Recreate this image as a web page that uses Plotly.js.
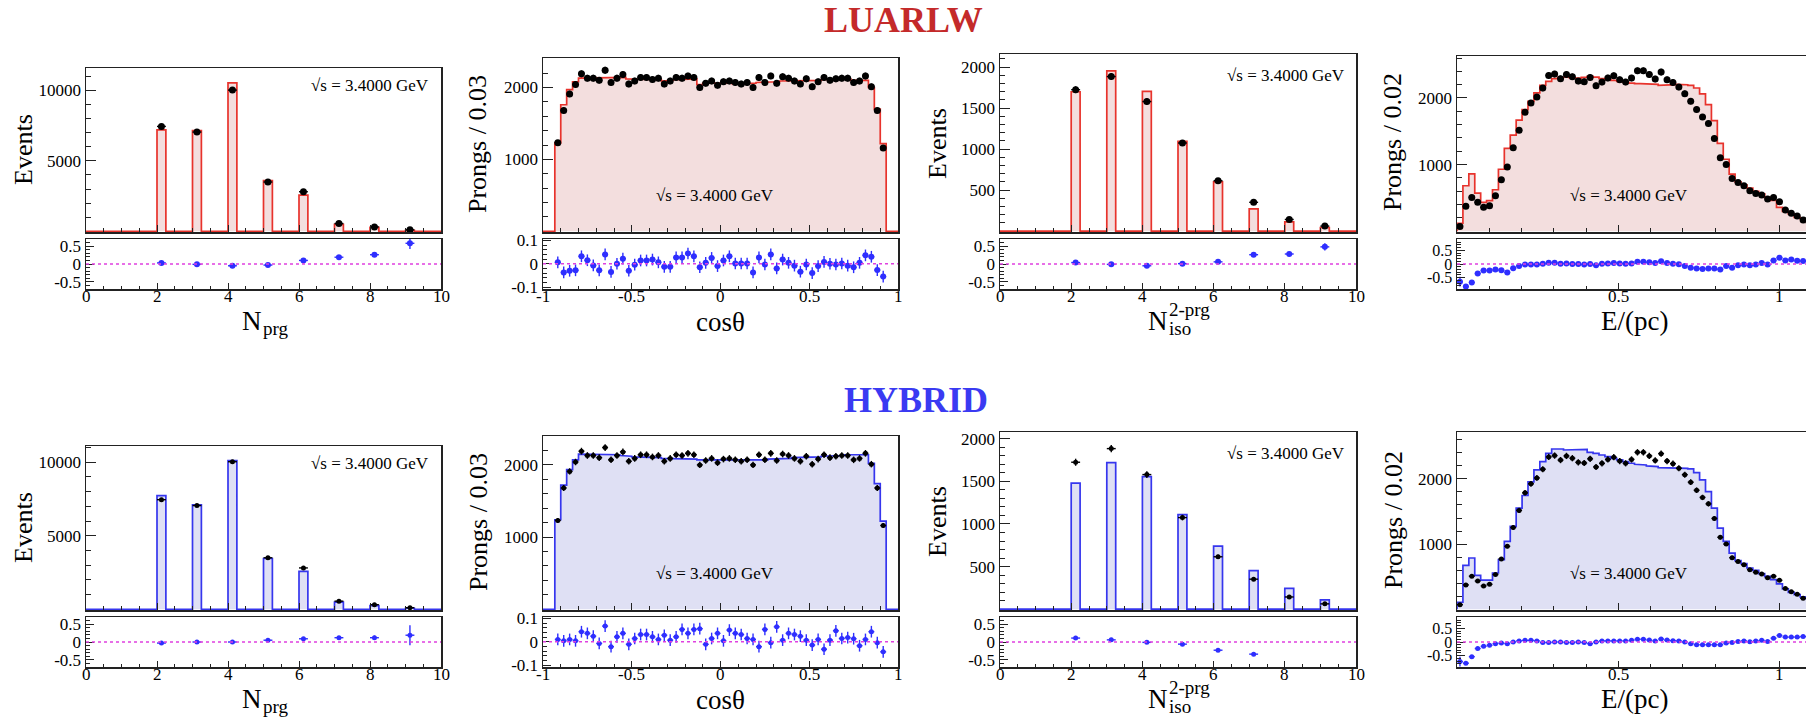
<!DOCTYPE html>
<html><head><meta charset="utf-8">
<script src="https://cdn.plot.ly/plotly-3.0.1.min.js"></script>
<style>html,body{margin:0;padding:0;overflow:hidden;background:#fff;}#chart{width:1820px;height:717px;}</style>
</head><body><div id="chart"></div>
<script>
// ---------------- DATA ----------------
const nBins = [2, 3, 4, 5, 6, 7, 8, 9];
const nprgData   = [7450, 7050, 10030, 3500, 2810, 550, 310, 105];
const nprgLuarlw = [7200, 7150, 10540, 3600, 2570, 490, 280, 60];
const nprgHybrid = [7720, 7100, 10110, 3450, 2570, 490, 245, 70];
const nprgRatioLuarlw    = [0.03, -0.01, -0.05, -0.03, 0.10, 0.19, 0.26, 0.58];
const nprgRatioLuarlwErr = [0.02, 0.02, 0.015, 0.02, 0.025, 0.04, 0.05, 0.16];
const nprgRatioHybrid    = [-0.03, 0.0, 0.0, 0.05, 0.09, 0.12, 0.12, 0.19];
const nprgRatioHybridErr = [0.015, 0.015, 0.012, 0.02, 0.02, 0.04, 0.06, 0.28];

const nisoData   = [1725, 1885, 1580, 1075, 615, 352, 143, 62];
const nisoLuarlw = [1700, 1955, 1705, 1095, 600, 272, 114, 45];
const nisoHybrid = [1480, 1720, 1555, 1110, 740, 452, 245, 109];
const nisoRatioLuarlw    = [0.04, -0.01, -0.05, 0.01, 0.06, 0.26, 0.28, 0.48];
const nisoRatioLuarlwErr = [0.02, 0.02, 0.02, 0.02, 0.03, 0.04, 0.06, 0.1];
const nisoRatioHybrid    = [0.11, 0.06, -0.01, -0.06, -0.23, -0.34];
const nisoRatioHybridErr = [0.015, 0.015, 0.015, 0.015, 0.02, 0.025];

// cos(theta): 60 bins on [-1,1], filled bins 2..57
const cosNBins = 60, cosLo = -1, cosHi = 1, cosFirst = 2;
const cosData = [1230,1680,1910,2040,2190,2130,2130,2100,2240,2070,
  2130,2180,2050,2090,2140,2140,2110,2130,2050,2090,
  2140,2130,2160,2140,2000,2060,2090,2030,2080,2090,
  2070,2050,2070,2000,2140,2070,2160,2060,2150,2130,
  2090,2050,2120,2010,2080,2140,2100,2120,2130,2130,
  2070,2090,2160,2010,1680,1160];
const cosLuarlw = [1230,1760,1970,2080,2130,2130,2130,2130,2140,2140,
  2140,2140,2120,2110,2120,2120,2110,2110,2090,2100,
  2110,2110,2120,2120,2040,2060,2070,2060,2060,2060,
  2050,2050,2060,2060,2070,2070,2070,2080,2090,2090,
  2100,2100,2100,2100,2100,2110,2110,2110,2120,2120,
  2100,2100,2100,2000,1700,1220];
const cosHybrid = [1240,1720,1935,2070,2150,2150,2150,2150,2150,2140,
  2140,2130,2120,2110,2110,2110,2100,2100,2090,2090,
  2090,2090,2080,2080,2070,2070,2060,2060,2060,2060,
  2060,2060,2070,2070,2070,2070,2080,2080,2090,2090,
  2100,2100,2100,2110,2110,2120,2120,2130,2130,2140,
  2140,2140,2140,2020,1740,1220];
const cosRatioLuarlw = [0.006,-0.037,-0.03,-0.028,0.032,0.015,-0.007,-0.028,0.04,-0.035,
  0,0.022,-0.03,-0.004,0.014,0.014,0.018,0.006,-0.013,-0.013,
  0.027,0.027,0.044,0.032,-0.015,0.004,0.025,-0.01,0.014,0.032,
  0.001,0.001,0.001,-0.037,0.027,-0.003,0.04,-0.02,0.018,0.004,
  -0.008,-0.034,-0.003,-0.04,-0.01,0.008,0,-0.003,0.001,-0.008,
  -0.015,0.004,0.036,0.03,-0.027,-0.055];
const cosRatioHybrid = [0.01,0.004,0.01,0.004,0.043,0.036,0.024,-0.007,0.067,-0.021,
  0.021,0.036,-0.011,0.014,0.031,0.031,0.021,0.01,0.028,0.007,
  0.021,0.053,0.036,0.053,0.056,-0.011,0.014,0.036,0.004,0.05,
  0.036,0.031,0.014,0.01,-0.021,0.053,-0.004,0.064,0.007,0.036,
  0.031,0.024,0.007,-0.014,0.01,-0.032,0.007,0.047,0.014,0.018,
  0.013,-0.017,0.01,0.043,-0.004,-0.043];
const cosRatioErr = 0.025;

// E/(pc): 60 bins on [0,1.1]
const eNBins = 60, eLo = 0, eHi = 1.1, eFirst = 0;
const eData = [70,373,507,433,358,383,532,771,965,1254,
  1517,1786,1925,2015,2149,2338,2358,2289,2353,2318,
  2254,2244,2308,2184,2239,2299,2333,2274,2239,2299,
  2408,2408,2353,2284,2388,2274,2234,2164,2065,1950,
  1826,1716,1617,1393,1104,1000,791,731,682,607,
  567,542,483,507,443,318,269,229,169,140];
const eLuarlw = [119,682,861,572,433,458,622,930,1244,1443,
  1667,1826,1950,2075,2189,2249,2289,2308,2313,2303,
  2299,2308,2323,2313,2289,2274,2264,2249,2239,2224,
  2214,2214,2209,2204,2189,2199,2199,2204,2199,2190,
  2150,2060,1900,1660,1318,1080,856,741,697,647,
  597,562,507,463,358,299,259,209,184,144];
const eHybrid = [107,673,786,520,445,445,556,760,1041,1270,
  1551,1745,1954,2138,2265,2393,2459,2459,2444,2444,
  2444,2454,2408,2393,2367,2342,2316,2291,2265,2240,
  2224,2214,2199,2189,2173,2163,2163,2163,2163,2153,
  2097,1985,1806,1551,1245,1041,862,745,699,633,
  597,546,505,454,388,311,260,224,189,158];
const eRatioLuarlw = [-0.65,-0.83,-0.68,-0.35,-0.24,-0.24,-0.2,-0.23,-0.31,-0.16,
  -0.07,-0.02,-0.02,-0.02,0.01,0.05,0.05,0.01,0.02,0,
  0,-0.02,0,-0.05,0.01,0.02,0.04,0.02,0.01,0.02,
  0.08,0.08,0.06,0.04,0.1,0.04,0.01,-0.01,-0.07,-0.14,
  -0.17,-0.18,-0.17,-0.17,-0.2,-0.07,-0.14,-0.05,-0.02,-0.05,
  -0.02,0.04,-0.02,0.13,0.23,0.13,0.17,0.12,0.11];
const eRatioHybrid = [-0.72,-0.78,-0.54,-0.24,-0.16,-0.12,-0.06,-0.04,-0.06,0,
  0.04,0.06,0.06,0.04,-0.02,-0.02,0,0,-0.02,-0.02,
  0,-0.02,-0.06,0,0.04,0.04,0.04,0.04,0.04,0.06,
  0.1,0.1,0.07,0.04,0.11,0.07,0.05,0.04,0,-0.06,
  -0.1,-0.1,-0.1,-0.1,-0.1,-0.04,-0.02,0.02,0.04,0.01,
  0.04,0.06,0.02,0.14,0.24,0.18,0.18,0.18,0.2];
const eRatioErr = [0.18,0.06,0.05,0.04,0.04,0.04,0.03,0.03,0.03,0.025,
  0.02,0.02,0.02,0.02,0.02,0.02,0.02,0.02,0.02,0.02,
  0.02,0.02,0.02,0.02,0.02,0.02,0.02,0.02,0.02,0.02,
  0.02,0.02,0.02,0.02,0.02,0.02,0.02,0.02,0.02,0.02,
  0.02,0.02,0.02,0.02,0.02,0.02,0.025,0.025,0.025,0.025,
  0.03,0.03,0.03,0.03,0.03,0.035,0.035,0.04,0.04];

const energyLabel = '√s = 3.4000 GeV';
const rowTitles = ['LUARLW', 'HYBRID'];

// ---------------- HELPERS ----------------
const W = 1820, H = 717;
const FONT = '"Liberation Serif", "Times New Roman", Times, serif';
const INK = '#222';
const RED = '#e8332c', BLUE = '#3636ee';
const RFILL = '#f3dede', BFILL = '#dfe0f4';
const RPT = '#2e2eff', MAG = '#e040e0';

function ax(i){ return i === 1 ? '' : String(i); }
function px(x){ return x / W; }
function py(y){ return 1 - y / H; }

function barOutline(bins, vals, w, xmin, xmax){
  const x = [xmin], y = [0];
  bins.forEach((n, i) => { x.push(n, n, n + w, n + w); y.push(0, vals[i], vals[i], 0); });
  x.push(xmax); y.push(0);
  return {x, y};
}
function histOutline(lo, w, first, vals, xmin, xmax){
  const x = [xmin], y = [0];
  let e = lo + first * w;
  x.push(e); y.push(0);
  vals.forEach(v => { x.push(e, e + w); y.push(v, v); e += w; });
  x.push(e, xmax); y.push(0, 0);
  return {x, y};
}
function centers(lo, w, first, n){ const c = []; for (let i = 0; i < n; i++) c.push(lo + (first + i + 0.5) * w); return c; }

const traces = [];
const layout = {width: W, height: H, margin: {l:0, r:0, t:0, b:0},
  paper_bgcolor: '#fff', plot_bgcolor: '#fff', showlegend: false,
  annotations: [], shapes: [], font: {family: FONT, color: '#000'}};

function axisBase(){
  return {showgrid:false, zeroline:false, showline:true, mirror:true, linecolor:INK, linewidth:1.5,
    ticks:'inside', tickcolor:INK, tickwidth:1, tickfont:{family:FONT, size:17, color:'#000'}, fixedrange:true};
}

function panel(o){
  const xm = 'x' + ax(o.mi), ym = 'y' + ax(o.mi), xr = 'x' + ax(o.ri), yr = 'y' + ax(o.ri);
  traces.push({type:'scatter', mode:'lines', x:o.hist.x, y:o.hist.y, xaxis:xm, yaxis:ym,
    line:{color:o.color, width:1.7}, fill:'tozeroy', fillcolor:o.fill, hoverinfo:'skip'});
  traces.push({type:'scatter', mode:'markers', x:o.dx, y:o.dy, xaxis:xm, yaxis:ym,
    marker:{color:'#000', size:o.ms},
    error_y:{type:'sqrt', color:'#000', thickness:1.4, width:0},
    error_x:{type:'constant', value:o.hw, color:'#000', thickness:1.4, width:0}});
  const ey = Array.isArray(o.re) ? {type:'data', array:o.re, color:RPT, thickness:1.4, width:0}
                                 : {type:'constant', value:o.re, color:RPT, thickness:1.4, width:0};
  traces.push({type:'scatter', mode:'markers', x:o.rx, y:o.ry, xaxis:xr, yaxis:yr,
    marker:{color:RPT, size:o.rs}, error_y:ey,
    error_x:{type:'constant', value:o.hw, color:RPT, thickness:1.4, width:0}});

  const c = o.col;
  layout['xaxis' + ax(o.mi)] = Object.assign(axisBase(), {domain:[px(c.x0), px(c.x1)], anchor:ym,
    range:c.xr, tickmode:'array', tickvals:c.xt, ticktext:c.xl, showticklabels:false, ticklen:7,
    minor:{ticks:'inside', tickmode:'linear', tick0:0, dtick:c.xm, ticklen:4, tickcolor:INK}});
  layout['yaxis' + ax(o.mi)] = Object.assign(axisBase(), {domain:[py(o.mb), py(o.mt)], anchor:xm,
    range:o.yr, tickmode:'array', tickvals:o.yt, ticktext:o.yt.map(String), ticklen:10,
    minor:{ticks:'inside', tickmode:'linear', tick0:0, dtick:o.ym, ticklen:5, tickcolor:INK}});
  layout['xaxis' + ax(o.ri)] = Object.assign(axisBase(), {domain:[px(c.x0), px(c.x1)], anchor:yr,
    range:c.xr, tickmode:'array', tickvals:c.xt, ticktext:c.xl, showticklabels:false, ticklen:6,
    minor:{ticks:'inside', tickmode:'linear', tick0:0, dtick:c.xm, ticklen:3, tickcolor:INK}});
  const yax = Object.assign(axisBase(), {domain:[py(o.rb), py(o.rt)], anchor:xr,
    range:o.rr, tickmode:'array', tickvals:o.rt2, ticktext:o.rl, ticklen:8,
    minor:{ticks:'inside', tickmode:'linear', tick0:0, dtick:o.rm, ticklen:4, tickcolor:INK}});
  if (o.rfs) yax.tickfont = {family:FONT, size:o.rfs, color:'#000'};
  layout['yaxis' + ax(o.ri)] = yax;
  layout.shapes.push({type:'line', xref:xr + ' domain', yref:yr, x0:0, x1:1, y0:0, y1:0,
    line:{color:MAG, width:1.5, dash:'dot'}, layer:'above'});
  // x tick labels of the ratio pad, placed just under the frame
  c.xt.forEach((v, i) => layout.annotations.push({text:c.xl[i], x:v, xref:xr, y:py(o.rb - 3), yref:'paper',
    xanchor:'center', yanchor:'top', showarrow:false, borderpad:0, font:{family:FONT, size:17, color:'#000'}}));
}

const cols = [
  {x0:86,   x1:441,  xr:[0,10],  xt:[0,2,4,6,8,10], xl:['0','2','4','6','8','10'], xm:0.5},
  {x0:543,  x1:898,  xr:[-1,1],  xt:[-1,-0.5,0,0.5,1], xl:['-1','-0.5','0','0.5','1'], xm:0.1},
  {x0:1000, x1:1356, xr:[0,10],  xt:[0,2,4,6,8,10], xl:['0','2','4','6','8','10'], xm:0.5},
  {x0:1457, x1:1812, xr:[0,1.1], xt:[0.5,1], xl:['0.5','1'], xm:0.1}
];

const cosW = (cosHi - cosLo) / cosNBins, eW = (eHi - eLo) / eNBins;
const nbx = nBins.map(n => n + 0.125);
const cosX = centers(cosLo, cosW, cosFirst, cosData.length);
const eX = centers(eLo, eW, eFirst, eData.length);
const eRX = eX.slice(0, eRatioLuarlw.length);

const rows = [
  {off:0, color:RED, fill:RFILL, ms:7, rs:6, mi:[1,2,3,4], ri:[5,6,7,8],
   nprg:nprgLuarlw, nprgR:nprgRatioLuarlw, nprgRE:nprgRatioLuarlwErr,
   cos:cosLuarlw, cosR:cosRatioLuarlw, niso:nisoLuarlw, nisoR:nisoRatioLuarlw, nisoRE:nisoRatioLuarlwErr,
   e:eLuarlw, eR:eRatioLuarlw,
   tops:[68,58,54,56], yr:[[-50,11600],[-10,2410],[-10,2160],[-12,2630]]},
  {off:378, color:BLUE, fill:BFILL, ms:5, rs:5, mi:[9,10,11,12], ri:[13,14,15,16],
   nprg:nprgHybrid, nprgR:nprgRatioHybrid, nprgRE:nprgRatioHybridErr,
   cos:cosHybrid, cosR:cosRatioHybrid, niso:nisoHybrid, nisoR:nisoRatioHybrid, nisoRE:nisoRatioHybridErr,
   e:eHybrid, eR:eRatioHybrid,
   tops:[68,58,54,54], yr:[[-50,11100],[-10,2400],[-10,2080],[-12,2720]]}
];

rows.forEach((r, k) => {
  const o = r.off, mb = 232 + o, rt = 239 + o, rb = 289 + o;
  panel({mi:r.mi[0], ri:r.ri[0], col:cols[0], color:r.color, fill:r.fill, ms:r.ms, rs:r.rs,
    hist:barOutline(nBins, r.nprg, 0.25, 0, 10), dx:nbx, dy:nprgData, hw:0.125,
    rx:nbx.slice(0, r.nprgR.length), ry:r.nprgR, re:r.nprgRE,
    mt:r.tops[0] + o, mb:mb, rt:rt, rb:rb, yr:r.yr[0], yt:[5000,10000], ym:1000,
    rr:[-0.7,0.7], rt2:[-0.5,0,0.5], rl:['-0.5','0','0.5'], rm:0.1});
  panel({mi:r.mi[1], ri:r.ri[1], col:cols[1], color:r.color, fill:r.fill, ms:r.ms, rs:r.rs,
    hist:histOutline(cosLo, cosW, cosFirst, r.cos, cosLo, cosHi), dx:cosX, dy:cosData, hw:cosW/2,
    rx:cosX, ry:r.cosR, re:cosRatioErr,
    mt:r.tops[1] + o, mb:mb, rt:rt, rb:rb, yr:r.yr[1], yt:[1000,2000], ym:200,
    rr:[-0.108,0.106], rt2:[-0.1,0,0.1], rl:['-0.1','0','0.1'], rm:0.02});
  panel({mi:r.mi[2], ri:r.ri[2], col:cols[2], color:r.color, fill:r.fill, ms:r.ms, rs:r.rs,
    hist:barOutline(nBins, r.niso, 0.25, 0, 10), dx:nbx, dy:nisoData, hw:0.125,
    rx:nbx.slice(0, r.nisoR.length), ry:r.nisoR, re:r.nisoRE,
    mt:r.tops[2] + o, mb:mb, rt:rt, rb:rb, yr:r.yr[2], yt:[500,1000,1500,2000], ym:100,
    rr:[-0.7,0.7], rt2:[-0.5,0,0.5], rl:['-0.5','0','0.5'], rm:0.1});
  panel({mi:r.mi[3], ri:r.ri[3], col:cols[3], color:r.color, fill:r.fill, ms:r.ms, rs:r.rs,
    hist:histOutline(eLo, eW, eFirst, r.e, eLo, eHi), dx:eX, dy:eData, hw:eW/2,
    rx:eRX, ry:r.eR, re:eRatioErr,
    mt:r.tops[3] + o, mb:mb, rt:rt, rb:rb, yr:r.yr[3], yt:[1000,2000], ym:200,
    rr:[-0.92,0.92], rt2:[-0.5,0,0.5], rl:['-0.5','0','0.5'], rm:0.1, rfs:16});

  const A = layout.annotations;
  const T = (text, x, y, size, extra) => A.push(Object.assign({text:text, x:px(x), y:py(y), xref:'paper', yref:'paper',
    showarrow:false, xanchor:'center', yanchor:'middle', borderpad:0, font:{family:FONT, size:size, color:'#000'}}, extra || {}));
  T(energyLabel, 370, 85 + o, 17);
  T(energyLabel, 715, 195 + o, 17);
  T(energyLabel, 1286, 75 + o, 17);
  T(energyLabel, 1629, 195 + o, 17);
  T('Events', 23, 150 + o, 26, {textangle:-90});
  T('Prongs / 0.03', 478, 144 + o, 26, {textangle:-90});
  T('Events', 937, 143 + o, 26, {textangle:-90});
  T('Prongs / 0.02', 1393, 142 + o, 26, {textangle:-90});
  T('N', 252, 321 + o, 27);
  T('prg', 262, 328 + o, 19, {xanchor:'left'});
  T('cosθ', 720, 322 + o, 27);
  T('N', 1158, 321 + o, 27);
  T('2-prg', 1168, 309 + o, 19, {xanchor:'left'});
  T('iso', 1168, 328 + o, 19, {xanchor:'left'});
  T('E/(pc)', 1634, 321 + o, 27);
  A.push({text:'<b>' + rowTitles[k] + '</b>', x:px(k === 0 ? 903 : 916), y:py(k === 0 ? 20 : 400), xref:'paper', yref:'paper',
    showarrow:false, xanchor:'center', yanchor:'middle',
    font:{family:FONT, size:36, color:k === 0 ? '#c42a2a' : '#3a3af2'}});
});

Plotly.newPlot('chart', traces, layout, {staticPlot:true, displayModeBar:false});
</script></body></html>
